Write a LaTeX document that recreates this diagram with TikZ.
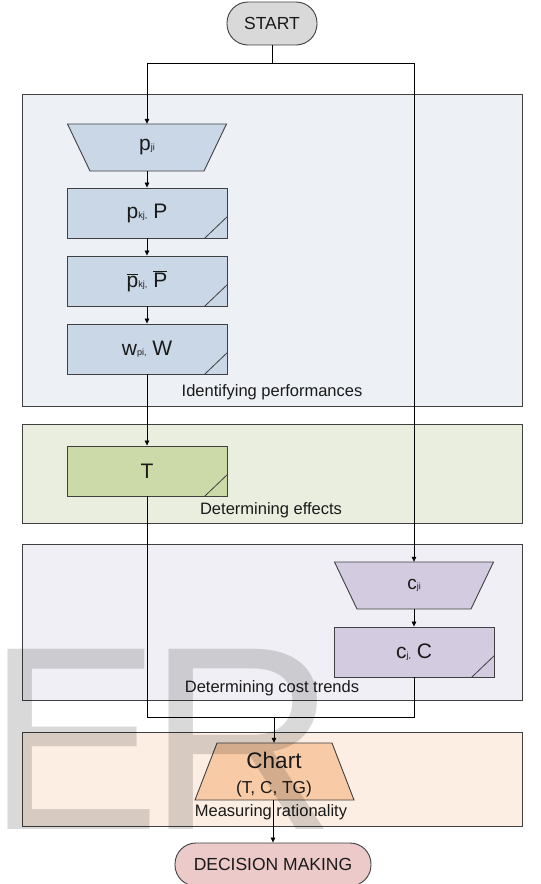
\documentclass[tikz,border=0pt]{standalone}
\usepackage{fontspec}
\setmainfont{Liberation Sans}
\usetikzlibrary{arrows.meta}
\definecolor{bordc}{HTML}{404040}
\definecolor{txtc}{HTML}{1A1A1A}
\definecolor{pone}{HTML}{EDF0F5}
\definecolor{ptwo}{HTML}{E9EEDF}
\definecolor{pthree}{HTML}{F0EFF5}
\definecolor{pfour}{HTML}{FDEEE3}
\definecolor{bluebox}{HTML}{C9D7E7}
\definecolor{greenbox}{HTML}{CBDAA8}
\definecolor{purplebox}{HTML}{D3CBE0}
\definecolor{orangebox}{HTML}{F8CBA6}
\definecolor{startc}{HTML}{D9D9D9}
\definecolor{decc}{HTML}{ECCACA}
\newcommand\sbs[1]{{\fontsize{9}{9}\selectfont #1}}
\begin{document}
\begin{tikzpicture}[x=1pt,y=-1pt,
  panel/.style={draw=bordc, line width=0.9pt, inner sep=0pt, minimum width=500pt},
  lbl/.style={inner sep=0pt, text=txtc, font=\fontsize{16.5}{16.5}\selectfont},
  databox/.style={draw=bordc, line width=0.9pt, minimum width=160pt, minimum height=50pt, inner sep=0pt, text=txtc, font=\fontsize{21}{21}\selectfont},
  trapline/.style={draw=bordc, line width=0.9pt, line join=miter},
  traptext/.style={inner sep=0pt, minimum height=47pt, minimum width=114pt, text=txtc},
  term/.style={draw=bordc, line width=0.9pt, rounded corners=21pt, inner sep=0pt, text=txtc, font=\fontsize{17.5}{17.5}\selectfont},
  conn/.style={line width=0.7pt, black},
  arr/.style={conn, -{Triangle[length=5pt,width=4.5pt]}},
  cornermark/.style={draw=bordc, line width=0.8pt},
  wmark/.style={inner sep=0pt, anchor=base, text=black, opacity=0.15, font=\fontsize{262}{262}\selectfont}]
\useasboundingbox (0,0) rectangle (541,884);
\fill[white] (0,0) rectangle (541,884);
% panels
\node[panel, fill=pone, minimum height=312pt] (pan1) at (272,250) {};
\node[panel, fill=ptwo, minimum height=99pt] (pan2) at (272,473.5) {};
\node[panel, fill=pthree, minimum height=156pt] (pan3) at (272,622) {};
\node[panel, fill=pfour, minimum height=94pt] (pan4) at (272,779) {};
\node[lbl] (l1) at (272,392) {Identifying performances};
\node[lbl] (l2) at (271,510) {Determining effects};
\node[lbl] (l3) at (272,688) {Determining cost trends};
\node[lbl] (l4) at (271,812) {Measuring rationality};
% terminals
\node[term, fill=startc, minimum width=90pt, minimum height=43pt] (start) at (272,23.5) {START};
\node[term, fill=decc, minimum width=196pt, minimum height=43pt] (dec) at (273,864.5) {DECISION MAKING};
% performance column
\path[trapline, fill=bluebox] (67.5,124) -- (226.5,124) -- (204,171) -- (90,171) -- cycle;
\node[traptext, font=\fontsize{21}{21}\selectfont] (pji) at (147,147.5) {p\sbs{ji}};
\node[databox, fill=bluebox] (pkj) at (147,213) {p\sbs{kj,} P};
\node[databox, fill=bluebox] (pbar) at (147,281) {$\overline{\mbox{p}}$\sbs{kj,} $\overline{\mbox{P}}$};
\node[databox, fill=bluebox] (wpi) at (147,349) {w\sbs{pi,} W};
\node[databox, fill=greenbox] (T) at (147,471) {T};
% cost column
\path[trapline, fill=purplebox] (334.5,562) -- (493.5,562) -- (471,609) -- (357,609) -- cycle;
\node[traptext, font=\fontsize{19}{19}\selectfont] (cji) at (414,585.5) {c\sbs{ji}};
\node[databox, fill=purplebox] (cj) at (414,652) {c\sbs{j,} C};
% chart
\path[trapline, fill=orangebox] (217,743) -- (332,743) -- (354,800) -- (195,800) -- cycle;
\node[inner sep=0pt, minimum width=115pt, minimum height=57pt] (chart) at (274,771.5) {};
\node[inner sep=0pt, anchor=base, text=txtc, font=\fontsize{22.5}{22.5}\selectfont] (charttitle) at (274,768) {Chart};
\node[inner sep=0pt, anchor=base, text=txtc, font=\fontsize{17.3}{17.3}\selectfont] (chartsub) at (274,793) {(T, C, TG)};
% corner marks
\foreach \b in {pkj,pbar,wpi,T,cj}{
  \draw[cornermark] ([xshift=-23pt]\b.south east) -- ([yshift=22pt]\b.south east);
}
% connectors
\coordinate (split) at (272,63);
\coordinate (merge) at (274,717);
\draw[conn] (start.south) -- (split);
\draw[arr] (split) -| (pji.north);
\draw[arr] (split) -| (cji.north);
\draw[arr] (pji.south) -- (pkj.north);
\draw[arr] (pkj.south) -- (pbar.north);
\draw[arr] (pbar.south) -- (wpi.north);
\draw[arr] (wpi.south) -- (T.north);
\draw[arr] (cji.south) -- (cj.north);
\draw[conn] (T.south) |- (merge);
\draw[conn] (cj.south) |- (merge);
\draw[arr] (merge) -- (chart.north);
\draw[arr] (chart.south -| dec.north) -- (dec.north);
% watermark
\node[wmark] (wmE) at (74,829) {E};
\node[wmark] (wmR) at (242,829) {R};
\end{tikzpicture}
\end{document}
